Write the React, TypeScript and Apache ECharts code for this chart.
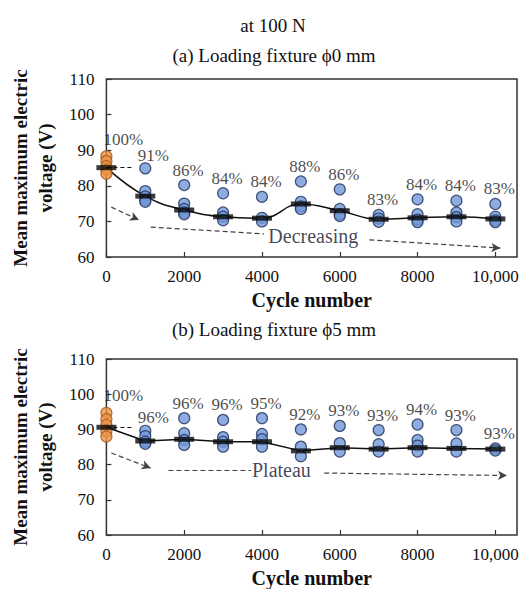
import React, { useEffect, useRef } from "react";
import * as echarts from "echarts";

// ---------- data ----------
const cycles = [0, 1000, 2000, 3000, 4000, 5000, 6000, 7000, 8000, 9000, 10000];
const xTicks = [0, 2000, 4000, 6000, 8000, 10000];

// (a) Loading fixture ϕ0 mm
const meanA = [85.1, 77.1, 73.2, 71.3, 70.9, 74.9, 73.0, 70.6, 71.0, 71.3, 70.7];
const outlierA: (number | null)[] = [null, 84.9, 80.2, 77.9, 76.9, 81.2, 79.0, null, 76.2, 75.8, 74.9];
const pctA = [100, 91, 86, 84, 84, 88, 86, 83, 84, 84, 83];
const initialA = [88.3, 87.0, 85.5, 84.5, 83.4];
const clusterA = [
  [], [78.5, 77, 76, 75.5], [75, 73.5, 72.5, 72], [72.5, 71.3, 70.3], [71, 70],
  [75.5, 74.2, 73.5], [73.5, 72, 71.5], [71.8, 70.8, 69.9], [72, 70.5, 69.8],
  [72.5, 71.2, 70], [71.3, 70.3, 69.8],
];
const arrowsA = [
  { from: [127, 74.0], to: [835, 70.4], head: true },
  { from: [1140, 68.4], to: [4050, 66.5], head: false },
  { from: [6760, 64.8], to: [10130, 62.5], head: true },
];
const noteA = { text: "Decreasing", at: [5320, 66.0] };

// (b) Loading fixture ϕ5 mm
const meanB = [90.6, 86.7, 87.2, 86.5, 86.5, 83.9, 84.8, 84.4, 84.8, 84.6, 84.4];
const outlierB: (number | null)[] = [null, null, 93.2, 92.7, 93.2, 90.0, 91.0, 89.8, 91.4, 89.8, null];
const pctB = [100, 96, 96, 96, 95, 92, 93, 93, 94, 93, 93];
const initialB = [94.7, 92.9, 91.3, 89.4, 88.0];
const clusterB = [
  [], [89.6, 88.1, 86.5, 85.9], [88.9, 87.0, 85.6], [87.8, 86.5, 85.1], [88.7, 87.2, 85.1],
  [85.1, 82.4], [86.1, 83.7], [85.8, 83.7], [87.0, 85.4, 83.7], [86.0, 83.7], [84.6, 84.0],
];
const arrowsB = [
  { from: [127, 83.3], to: [1139, 79.0], head: true },
  { from: [1595, 78.5], to: [3720, 78.5], head: false },
  { from: [5600, 77.6], to: [10300, 76.9], head: true },
];
const noteB = { text: "Plateau", at: [4500, 78.4] };

// ---------- styles ----------
const FONT = '"Liberation Serif", "Times New Roman", serif';
const BLUE = "#7098D8";
const BLUE_BORDER = "#1E2E5A";
const ORANGE = "#EE9444";
const ORANGE_BORDER = "#A2581C";

function gridSeries(
  idx: number,
  mean: number[],
  outlier: (number | null)[],
  pct: number[],
  initial: number[],
  cluster: number[][],
  arrows: { from: number[]; to: number[]; head: boolean }[],
  note: { text: string; at: number[] },
  smooth: boolean
) {
  const ax = { xAxisIndex: idx, yAxisIndex: idx };
  const markData: any[] = arrows.map((a) => [
    { coord: a.from, symbol: "none" },
    { coord: a.to, symbol: a.head ? "arrow" : "none", symbolSize: [7, 9] },
  ]);
  markData.push([
    { coord: [0, mean[0]], symbol: "none", lineStyle: { color: "#111", type: [4, 3], width: 1.2 } },
    { coord: [700, mean[0]], symbol: "none" },
  ]);
  const labelData = cycles.map((c, i) => {
    const anchor =
      outlier[i] != null ? (outlier[i] as number) : i === 0 ? Math.max(...initial) : Math.max(...cluster[i]);
    let offset = [4, 0];
    if (i === 0) offset = [17, -2];
    else if (i === 1) offset = [8, 2];
    return {
      value: [c, anchor, pct[i]],
      label: { offset },
    };
  });
  const circle = {
    color: BLUE,
    borderColor: BLUE_BORDER,
    borderWidth: 1.2,
  };
  return [
    {
      type: "line",
      ...ax,
      data: cycles.map((c, i) => [c, mean[i]]),
      smooth: smooth ? 0.45 : false,
      symbol: "none",
      lineStyle: { color: "#111", width: 1.5 },
      z: 2,
      silent: true,
      markLine: {
        silent: true,
        symbol: ["none", "none"],
        label: { show: false },
        lineStyle: { color: "#444", type: [5, 3], width: 1.2 },
        data: markData,
      },
    },
    {
      type: "scatter",
      ...ax,
      clip: false,
      symbolSize: 11,
      itemStyle: circle,
      z: 3,
      data: cluster.flatMap((arr, i) => arr.map((v) => [cycles[i], v])),
    },
    {
      type: "scatter",
      ...ax,
      clip: false,
      symbolSize: 11,
      itemStyle: circle,
      z: 3,
      data: cycles.map((c, i) => [c, outlier[i]]).filter((p) => p[1] != null),
    },
    {
      type: "scatter",
      ...ax,
      clip: false,
      symbolSize: 11,
      itemStyle: { color: ORANGE, borderColor: ORANGE_BORDER, borderWidth: 1.2 },
      z: 3,
      data: initial.map((v) => [cycles[0], v]),
    },
    {
      type: "scatter",
      ...ax,
      clip: false,
      symbol: "rect",
      symbolSize: [20, 5],
      itemStyle: { color: "#0a0a0a" },
      z: 5,
      data: cycles.map((c, i) => [c, mean[i]]),
    },
    {
      type: "scatter",
      ...ax,
      clip: false,
      symbolSize: 11,
      itemStyle: { color: "rgba(0,0,0,0)" },
      z: 6,
      silent: true,
      label: {
        show: true,
        position: "top",
        distance: 1,
        fontFamily: FONT,
        fontSize: 17,
        color: "#1a1a1a",
        formatter: (p: any) => p.value[2] + "%",
      },
      data: labelData,
    },
    {
      type: "scatter",
      ...ax,
      clip: false,
      symbolSize: 1,
      itemStyle: { color: "rgba(0,0,0,0)" },
      z: 6,
      silent: true,
      label: {
        show: true,
        position: "inside",
        fontFamily: FONT,
        fontSize: 20,
        color: "#15152e",
        formatter: note.text,
      },
      data: [note.at],
    },
  ];
}

function xAxisDef(idx: number) {
  return {
    type: "value",
    gridIndex: idx,
    min: 0,
    max: 10557,
    interval: 2000,
    axisLine: { show: false },
    axisTick: { show: true, inside: true, length: 5, lineStyle: { color: "#333", width: 1.2 } },
    splitLine: { show: false },
    axisLabel: {
      margin: 11,
      fontFamily: FONT,
      fontSize: 17,
      color: "#111",
      showMaxLabel: false,
      formatter: (v: number) =>
        xTicks.includes(v) ? (v === 10000 ? "10,000" : String(v)) : "",
    },
    name: "Cycle number",
    nameLocation: "middle",
    nameGap: 33,
    nameTextStyle: { fontFamily: FONT, fontSize: 20, fontWeight: "bold", color: "#111" },
  };
}

function yAxisDef(idx: number) {
  return {
    type: "value",
    gridIndex: idx,
    min: 60,
    max: 110,
    interval: 10,
    axisLine: { show: false },
    axisTick: { show: true, inside: true, length: 5, lineStyle: { color: "#333", width: 1.2 } },
    splitLine: { show: false },
    axisLabel: { margin: 12, fontFamily: FONT, fontSize: 17, color: "#111" },
    name: "Mean maximum electric\nvoltage (V)",
    nameLocation: "middle",
    nameRotate: 90,
    nameGap: 33,
    nameTextStyle: {
      fontFamily: FONT,
      fontSize: 19,
      fontWeight: "bold",
      color: "#111",
      lineHeight: 25,
    },
  };
}

export default function App() {
  const ref = useRef<HTMLDivElement>(null);
  useEffect(() => {
    if (!ref.current) return;
    const chart = echarts.init(ref.current, undefined, { renderer: "svg" });
    const titleStyle = (text: string) => ({
      text,
      font: `19px ${FONT}`,
      fill: "#111",
      align: "center",
      verticalAlign: "middle",
    });
    chart.setOption({
      animation: false,
      backgroundColor: "#ffffff",
      grid: [
        { left: 100, top: 79, width: 417, height: 178, show: true, borderColor: "#333", borderWidth: 1.5 },
        { left: 100, top: 359, width: 417, height: 176, show: true, borderColor: "#333", borderWidth: 1.5 },
      ],
      xAxis: [xAxisDef(0), xAxisDef(1)],
      yAxis: [yAxisDef(0), yAxisDef(1)],
      graphic: [
        { type: "text", x: 273, y: 25, style: titleStyle("at 100 N") },
        { type: "text", x: 274, y: 55, style: titleStyle("(a) Loading fixture \u03D50 mm") },
        { type: "text", x: 274, y: 329, style: titleStyle("(b) Loading fixture \u03D55 mm") },
      ],
      series: [
        ...gridSeries(0, meanA, outlierA, pctA, initialA, clusterA, arrowsA, noteA, true),
        ...gridSeries(1, meanB, outlierB, pctB, initialB, clusterB, arrowsB, noteB, false),
      ],
    });
    return () => chart.dispose();
  }, []);
  return (
    <div
      ref={ref}
      style={{ position: "fixed", left: 0, top: 0, width: 526, height: 589, background: "#fff" }}
    />
  );
}
